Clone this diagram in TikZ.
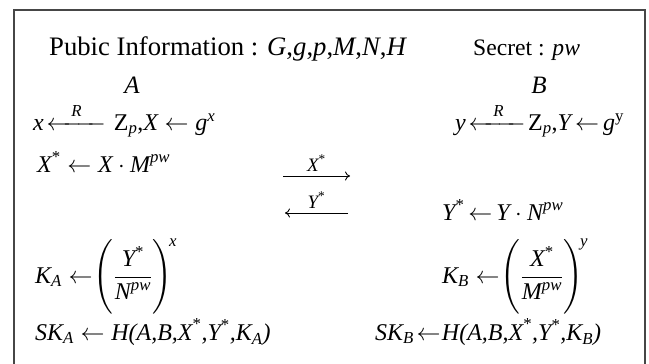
\RequirePackage{fix-cm}
\documentclass[tikz,border=0pt]{standalone}
\usepackage{amsmath}
\usepackage{fontspec}
\setmainfont{Liberation Serif}
\usepackage{tikz}
\usetikzlibrary{arrows.meta,positioning}
\definecolor{framegray}{RGB}{70,70,70}
\newcommand{\vi}[1]{\text{\itshape #1}}
\newcommand{\st}{^{\text{*}}}

\begin{document}
\begin{tikzpicture}[x=1pt,y=-1pt,
  eq/.style={anchor=base west, inner sep=0pt, font=\fontsize{24}{28}\selectfont},
  party/.style={anchor=base, inner sep=0pt, font=\fontsize{25}{30}\selectfont\itshape},
  msg/.style={-{To[length=5pt,width=9pt]}, line width=0.9pt}]
  \useasboundingbox (0,0) rectangle (649,364);

  % Frame (open at the bottom)
  \draw[framegray, line width=1.8pt] (14,380) -- (14,10) -- (645,10) -- (645,380);

  % Header
  \node[eq, font=\fontsize{26.7}{30}\selectfont] (pub) at (49,55)
    {Pubic Information : \textit{G},\textit{g},\textit{p},\textit{M},\textit{N},\textit{H}};
  \node[eq, font=\fontsize{23.6}{27}\selectfont] (sec) at (473,55) {Secret : \textit{pw}};
  \node[party] (A) at (132,93) {A};
  \node[party] (B) at (539,93) {B};

  % Party A
  \node[eq] (a1) at (33,130)
    {$\vi{x}\mkern-3mu\xleftarrow{\hspace{0.7em}\vi{R}\hspace{0.8em}}\mkern1mu\text{Z}_{\vi{p}}\text{,}\vi{X}\leftarrow\vi{g}^{\vi{x}}$};
  \node[eq] (a2) at (37,172) {$\vi{X}\st\leftarrow\vi{X}\cdot\vi{M}^{\vi{pw}}$};
  \node[eq] (a3) at (35,283)
    {$\vi{K}_{\vi{A}}\leftarrow\mkern-4mu\Biggl(\dfrac{\vi{Y}\st}{\vi{N}^{\vi{pw}}}\Biggr)^{\mkern-3mu\vi{x}}$};
  \node[eq] (a4) at (35,340)
    {$\vi{SK}_{\vi{A}}\leftarrow\vi{H(A,B,X}\st\vi{,Y}\st\vi{,K}_{\vi{A}}\vi{)}$};

  % Party B
  \node[eq] (b1) at (455,130)
    {$\vi{y}\mkern-3mu\xleftarrow{\hspace{0.7em}\vi{R}\hspace{0.7em}}\mkern-3mu\text{Z}_{\vi{p}}\text{,}\vi{Y}\mkern-2mu\leftarrow\mkern-2mu\vi{g}^{\text{y}}$};
  \node[eq] (b2) at (442,220) {$\vi{Y}\st\mkern-2mu\leftarrow\mkern-2mu\vi{Y}\cdot\vi{N}^{\vi{pw}}$};
  \node[eq] (b3) at (442,283)
    {$\vi{K}_{\vi{B}}\leftarrow\mkern-4mu\Biggl(\dfrac{\vi{X}\st}{\vi{M}^{\vi{pw}}}\Biggr)^{\mkern-3mu\vi{y}}$};
  \node[eq] (b4) at (375,340)
    {$\vi{SK}_{\vi{B}}\mkern-3mu\leftarrow\mkern-4mu\vi{H(A,B,X}\st\vi{,Y}\st\vi{,K}_{\vi{B}}\vi{)}$};

  % Messages
  \coordinate (xs) at (283,176);
  \coordinate (xe) at (350,176);
  \coordinate (ys) at (348,213);
  \coordinate (ye) at (285,213);
  \draw[msg] (xs) -- node[above=1pt, font=\fontsize{19}{22}\selectfont] (xmsg) {$\vi{X}\st$} (xe);
  \draw[msg] (ys) -- node[above=1pt, font=\fontsize{19}{22}\selectfont] (ymsg) {$\vi{Y}\st$} (ye);
\end{tikzpicture}
\end{document}
